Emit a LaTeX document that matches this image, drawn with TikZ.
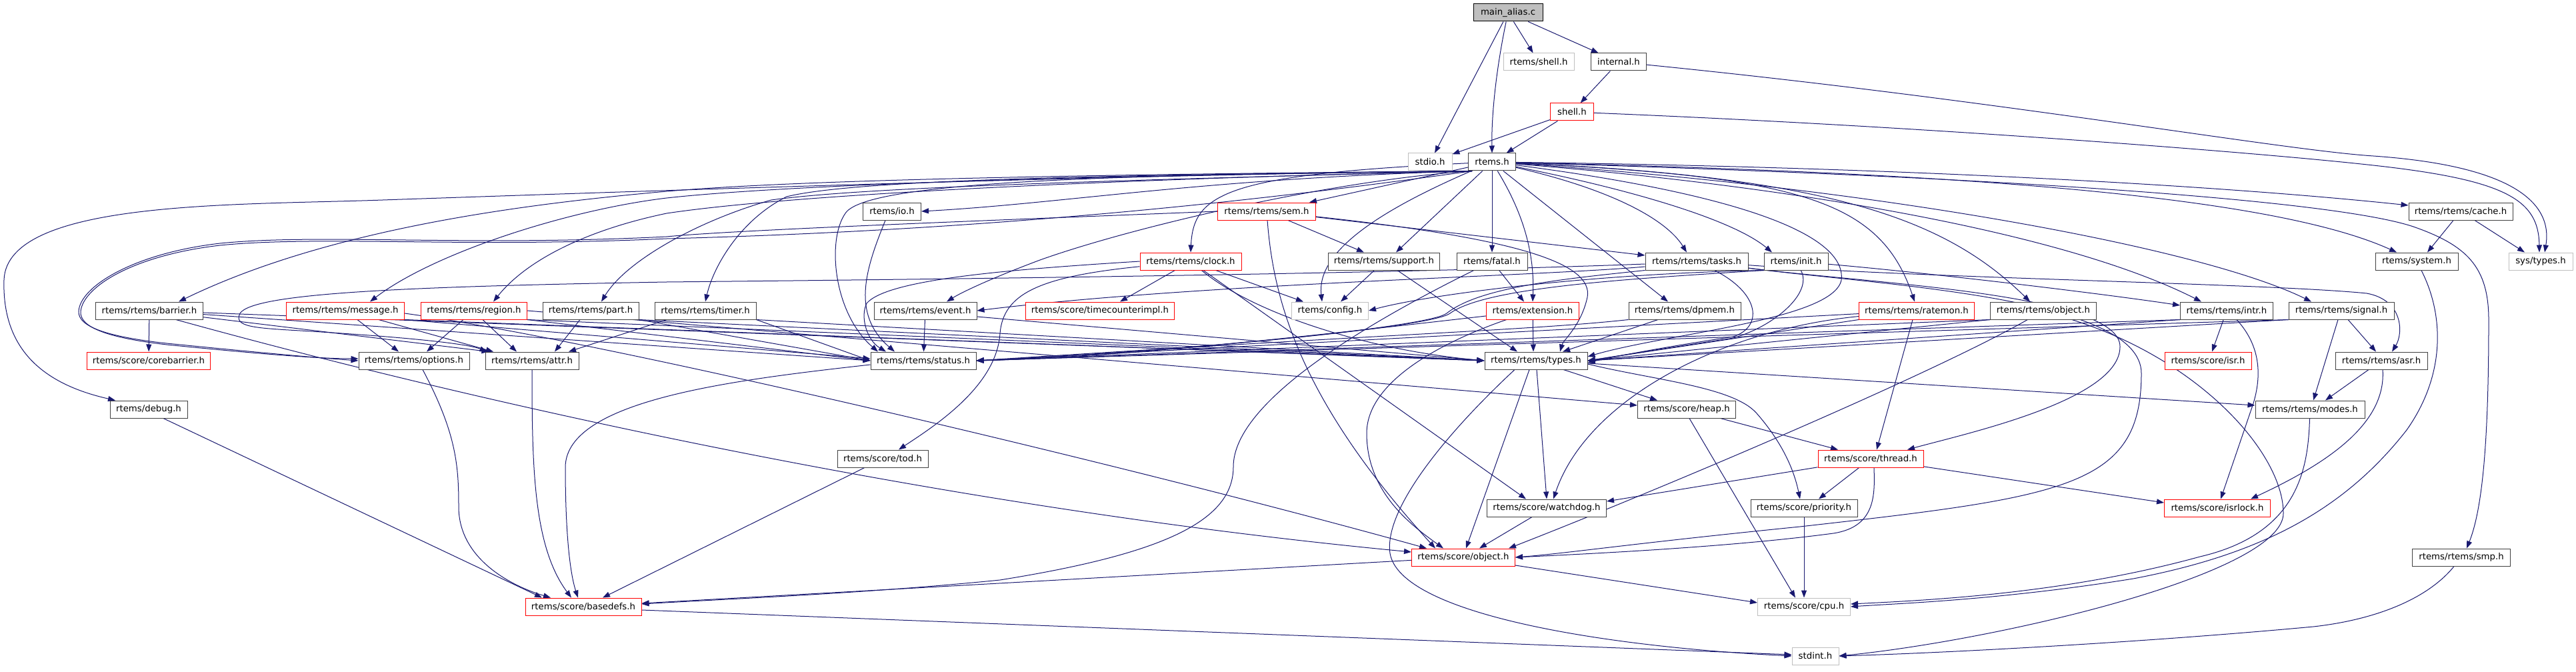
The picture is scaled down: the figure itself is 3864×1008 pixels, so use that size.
\documentclass[tikz,border=0pt]{standalone}
\usepackage{fontspec}
\setmainfont{DejaVu Sans}
\usetikzlibrary{arrows.meta,backgrounds}
\definecolor{edgec}{HTML}{191970}
\definecolor{bord}{HTML}{404040}
\definecolor{gl}{HTML}{BFBFBF}
\tikzset{
 nd/.style={rectangle, draw=bord, fill=white, line width=1pt, minimum height=26pt, inner sep=0pt, font=\fontsize{13.3pt}{15pt}\selectfont},
 ndr/.style={nd, draw=red},
 ndg/.style={nd, draw=gl},
 ndroot/.style={nd, draw=black, fill=gl},
 dep/.style={draw=edgec, line width=1pt, -{Triangle[length=11pt,width=8pt]}},
}
\begin{document}
\begin{tikzpicture}[x=1pt,y=-1pt]
\useasboundingbox (0,0) rectangle (3864,1008);
% nodes
\node[ndroot, minimum width=104pt] (root) at (2262,19) {main\_alias.c};
\node[ndg, minimum width=106pt] (rshell) at (2308,93) {rtems/shell.h};
\node[nd, minimum width=83pt] (internal) at (2428,93) {internal.h};
\node[ndr, minimum width=65pt] (shellh) at (2358,168) {shell.h};
\node[ndg, minimum width=66pt] (stdio) at (2145,243) {stdio.h};
\node[nd, minimum width=71pt] (rtemsh) at (2238,243) {rtems.h};
\node[nd, minimum width=87pt] (io) at (1338,317) {rtems/io.h};
\node[ndr, minimum width=147pt] (sem) at (1900,317) {rtems/rtems/sem.h};
\node[nd, minimum width=156pt] (cache) at (3691,317) {rtems/rtems/cache.h};
\node[ndr, minimum width=152pt] (clock) at (1786,392) {rtems/rtems/clock.h};
\node[nd, minimum width=167pt] (support) at (2076,392) {rtems/rtems/support.h};
\node[nd, minimum width=106pt] (fatal) at (2238,392) {rtems/fatal.h};
\node[nd, minimum width=154pt] (tasks) at (2545,392) {rtems/rtems/tasks.h};
\node[nd, minimum width=96pt] (init) at (2694,392) {rtems/init.h};
\node[nd, minimum width=124pt] (system) at (3625,392) {rtems/system.h};
\node[ndg, minimum width=96pt] (systypes) at (3811,392) {sys/types.h};
\node[nd, minimum width=161pt] (barrier) at (224,466) {rtems/rtems/barrier.h};
\node[ndr, minimum width=177pt] (message) at (518,466) {rtems/rtems/message.h};
\node[ndr, minimum width=159pt] (region) at (711,466) {rtems/rtems/region.h};
\node[nd, minimum width=144pt] (part) at (886,466) {rtems/rtems/part.h};
\node[nd, minimum width=152pt] (timer) at (1058,466) {rtems/rtems/timer.h};
\node[nd, minimum width=154pt] (event) at (1388,466) {rtems/rtems/event.h};
\node[ndr, minimum width=223pt] (timecnt) at (1650,466) {rtems/score/timecounterimpl.h};
\node[ndg, minimum width=115pt] (config) at (1995,466) {rtems/config.h};
\node[ndr, minimum width=139pt] (extension) at (2299,466) {rtems/extension.h};
\node[nd, minimum width=168pt] (dpmem) at (2527,466) {rtems/rtems/dpmem.h};
\node[ndr, minimum width=173pt] (ratemon) at (2875,466) {rtems/rtems/ratemon.h};
\node[nd, minimum width=159pt] (robject) at (3065,466) {rtems/rtems/object.h};
\node[nd, minimum width=139pt] (intr) at (3340,466) {rtems/rtems/intr.h};
\node[nd, minimum width=158pt] (signal) at (3512,466) {rtems/rtems/signal.h};
\node[ndr, minimum width=185pt] (corebarrier) at (223,541) {rtems/score/corebarrier.h};
\node[nd, minimum width=166pt] (options) at (621,541) {rtems/rtems/options.h};
\node[nd, minimum width=140pt] (attr) at (798,541) {rtems/rtems/attr.h};
\node[nd, minimum width=158pt] (status) at (1385,541) {rtems/rtems/status.h};
\node[nd, minimum width=154pt] (types) at (2304,541) {rtems/rtems/types.h};
\node[ndr, minimum width=130pt] (isr) at (3312,541) {rtems/score/isr.h};
\node[nd, minimum width=138pt] (asr) at (3572,541) {rtems/rtems/asr.h};
\node[nd, minimum width=116pt] (debug) at (223,614) {rtems/debug.h};
\node[nd, minimum width=147pt] (heap) at (2530,614) {rtems/score/heap.h};
\node[nd, minimum width=164pt] (modes) at (3465,614) {rtems/rtems/modes.h};
\node[nd, minimum width=136pt] (tod) at (1324,688) {rtems/score/tod.h};
\node[ndr, minimum width=158pt] (thread) at (2806,688) {rtems/score/thread.h};
\node[nd, minimum width=179pt] (watchdog) at (2320,762) {rtems/score/watchdog.h};
\node[nd, minimum width=160pt] (priority) at (2706,762) {rtems/score/priority.h};
\node[ndr, minimum width=159pt] (isrlock) at (3326,762) {rtems/score/isrlock.h};
\node[ndr, minimum width=155pt] (sobject) at (2195,836) {rtems/score/object.h};
\node[nd, minimum width=147pt] (smp) at (3692,836) {rtems/rtems/smp.h};
\node[ndr, minimum width=174pt] (basedefs) at (875,910) {rtems/score/basedefs.h};
\node[ndg, minimum width=139pt] (cpu) at (2706,910) {rtems/score/cpu.h};
\node[ndg, minimum width=70pt] (stdint) at (2723,984) {stdint.h};

\begin{scope}[on background layer]
\fill[white] (0,0) rectangle (3864,1008);
% top
\draw[dep] (root) -- (stdio);
\draw[dep] (root) .. controls (2245,100) and (2237,170) .. (rtemsh.north);
\draw[dep] (root) -- (rshell);
\draw[dep] (root) -- (internal);
\draw[dep] (internal) -- (shellh);
\draw[dep] (internal) .. controls (3000,150) and (3420,225) .. (3560,234) .. controls (3760,248) and (3830,300) .. ([xshift=6pt]systypes.north);
\draw[dep] (shellh) -- (stdio);
\draw[dep] (shellh) -- (rtemsh);
\draw[dep] (shellh) .. controls (2900,190) and (3400,230) .. (3560,248) .. controls (3760,270) and (3808,300) .. ([xshift=-2pt]systypes.north);
% rtems.h left fan
\draw[dep] ([xshift=6pt]rtemsh.south west) .. controls (1800,268) and (1600,305) .. (io.east);
\draw[dep] ([xshift=6pt]rtemsh.south west) .. controls (1600,262) and (1200,270) .. (1000,287) .. controls (800,305) and (500,340) .. ([xshift=44pt]barrier.north);
\draw[dep] ([xshift=6pt]rtemsh.south west) .. controls (1700,262) and (1200,275) .. (1000,297) .. controls (850,315) and (650,380) .. ([xshift=37pt]message.north);
\draw[dep] ([xshift=6pt]rtemsh.south west) .. controls (1700,268) and (1200,290) .. (1000,320) .. controls (880,345) and (790,390) .. ([xshift=29pt]region.north);
\draw[dep] ([xshift=6pt]rtemsh.south west) .. controls (1700,270) and (1300,280) .. (1157,300) .. controls (1050,330) and (940,390) .. ([xshift=16pt]part.north);
\draw[dep] ([xshift=6pt]rtemsh.south west) .. controls (1800,262) and (1300,265) .. (1180,295) .. controls (1110,330) and (1070,400) .. (timer.north);
\draw[dep] ([xshift=6pt]rtemsh.south west) .. controls (2000,270) and (1700,340) .. (1560,390) .. controls (1480,420) and (1440,440) .. ([xshift=32pt]event.north);
\draw[dep] ([xshift=6pt]rtemsh.south west) .. controls (1700,262) and (1300,270) .. (1268,320) .. controls (1240,360) and (1250,470) .. ([xshift=-68pt]status.north);
\draw[dep] ([xshift=6pt]rtemsh.south west) .. controls (1700,262) and (1100,282) .. (574,300) .. controls (350,308) and (10,300) .. (6,420) .. controls (3,520) and (60,575) .. ([xshift=-50pt]debug.north);
\draw[dep] ([xshift=6pt]rtemsh.south west) .. controls (1900,300) and (1500,345) .. (1000,358) .. controls (700,372) and (480,353) .. (330,368) .. controls (200,383) and (125,430) .. (121,467) .. controls (119,492) and (165,507) .. (250,517) .. controls (400,532) and (480,538) .. ([yshift=3pt]options.west);
% rtems.h middle/right fan
\draw[dep] (rtemsh) -- ([xshift=-10pt]sem.north east);
\draw[dep] (rtemsh) .. controls (1840,262) and (1790,290) .. (clock.north);
\draw[dep] (rtemsh) -- ([xshift=18pt]support.north);
\draw[dep] (rtemsh) -- (fatal);
\draw[dep] (rtemsh) .. controls (2060,320) and (1975,380) .. ([xshift=-12pt]config.north);
\draw[dep] (rtemsh) .. controls (2285,320) and (2302,380) .. (extension.north);
\draw[dep] (rtemsh) .. controls (2420,285) and (2500,330) .. ([xshift=-15pt]tasks.north);
\draw[dep] (rtemsh) -- ([xshift=-25pt]dpmem.north);
\draw[dep] (rtemsh) .. controls (2450,285) and (2600,330) .. ([xshift=-36pt]init.north);
\draw[dep] (rtemsh) .. controls (2700,265) and (2820,300) .. ([xshift=-3pt]ratemon.north);
\draw[dep] (rtemsh) .. controls (2750,265) and (2920,330) .. ([xshift=-20pt]robject.north);
\draw[dep] (rtemsh) .. controls (2700,280) and (3100,350) .. ([xshift=-38pt]intr.north);
\draw[dep] (rtemsh) .. controls (2800,280) and (3300,370) .. ([xshift=-45pt]signal.north);
\draw[dep] (rtemsh) .. controls (2800,250) and (3300,275) .. ([yshift=9pt]cache.west);
\draw[dep] (rtemsh) .. controls (2900,258) and (3400,290) .. ([xshift=-30pt]system.north);
\draw[dep] (rtemsh) .. controls (3000,265) and (3500,300) .. (3620,340) .. controls (3700,368) and (3733,400) .. (3733,480) .. controls (3733,650) and (3725,760) .. ([xshift=8pt]smp.north);
\draw[dep] (rtemsh) .. controls (2600,290) and (2770,350) .. (2762,420) .. controls (2750,480) and (2500,500) .. ([yshift=6pt]types.east);
% sem.h
\draw[dep] (sem) -- ([xshift=-30pt]support.north);
\draw[dep] (sem) -- ([yshift=9pt]tasks.west);
\draw[dep] (sem) .. controls (2300,360) and (2395,400) .. (2380,450) .. controls (2370,490) and (2345,510) .. ([xshift=36pt]types.north);
\draw[dep] (sem) .. controls (1910,450) and (1950,600) .. ([xshift=-42pt]sobject.north);
\draw[dep] (sem.west) .. controls (1500,330) and (1100,345) .. (1000,355) .. controls (700,370) and (480,350) .. (330,365) .. controls (200,380) and (120,430) .. (118,467) .. controls (117,490) and (160,505) .. (250,515) .. controls (400,530) and (480,537) .. (options.west);
% clock.h
\draw[dep] (clock) -- ([xshift=30pt]timecnt.north);
\draw[dep] (clock) -- ([xshift=-40pt]config.north);
\draw[dep] (clock.west) .. controls (1500,405) and (1330,420) .. (1300,455) .. controls (1290,475) and (1300,510) .. ([xshift=-56pt]status.north);
\draw[dep] (clock) .. controls (1560,415) and (1505,440) .. (1500,500) .. controls (1495,580) and (1400,640) .. ([xshift=24pt]tod.north);
\draw[dep] (clock) -- ([xshift=-31pt]watchdog.north);
\draw[dep] (clock) .. controls (1880,470) and (2050,525) .. (types.west);
% io, support, fatal
\draw[dep] ([xshift=-10pt]io.south) .. controls (1300,400) and (1275,470) .. ([xshift=-43pt]status.north);
\draw[dep] (support) -- ([xshift=16pt]config.north);
\draw[dep] (support) -- ([xshift=-28pt]types.north);
\draw[dep] (fatal) -- ([xshift=-13pt]extension.north);
\draw[dep] (fatal) .. controls (2060,480) and (1850,600) .. (1850,700) .. controls (1850,780) and (1750,830) .. (1500,870) .. controls (1300,890) and (1100,898) .. ([yshift=4pt]basedefs.east);
% tasks.h
\draw[dep] (tasks.south west) .. controls (2350,418) and (2220,430) .. (2170,470) .. controls (2145,490) and (1800,525) .. (status.east);
\draw[dep] (tasks) .. controls (2640,440) and (2645,490) .. (2600,505) .. controls (2500,520) and (2420,535) .. ([yshift=-3pt]types.east);
\draw[dep] (tasks) .. controls (2800,425) and (3180,440) .. (3180,520) .. controls (3180,600) and (2950,650) .. ([xshift=55pt]thread.north);
\draw[dep] (tasks) .. controls (2820,428) and (3212,445) .. (3212,560) .. controls (3212,730) and (3100,745) .. (2700,790) .. controls (2450,815) and (2350,830) .. (sobject.east);
\draw[dep] (tasks) .. controls (2900,418) and (3400,425) .. (3550,440) .. controls (3605,450) and (3605,500) .. ([xshift=16pt]asr.north);
\draw[dep] ([yshift=-8pt]tasks.west) .. controls (2300,415) and (1800,425) .. (event.east);
\draw[dep] ([yshift=-4pt]tasks.west) .. controls (2100,410) and (1500,418) .. (1000,423) .. controls (600,430) and (380,440) .. (360,470) .. controls (350,490) and (380,492) .. (450,496) .. controls (600,505) and (700,515) .. ([xshift=3pt]attr.north west);
% init.h
\draw[dep] (init.south west) .. controls (2400,410) and (2150,440) .. (config.east);
\draw[dep] (init.south west) .. controls (2450,418) and (2230,430) .. (2175,470) .. controls (2150,490) and (1800,525) .. (status.east);
\draw[dep] (init) .. controls (2720,440) and (2660,490) .. (2600,507) .. controls (2500,522) and (2420,535) .. (types.east);
\draw[dep] (init) .. controls (2900,410) and (3150,440) .. ([yshift=8pt]intr.west);
% extension, dpmem, ratemon, object, intr, signal
\draw[dep] (extension) .. controls (2000,500) and (1700,535) .. (status.east);
\draw[dep] (extension) -- ([xshift=-4pt]types.north);
\draw[dep] (extension) .. controls (2200,500) and (2050,560) .. (2050,650) .. controls (2050,740) and (2120,790) .. ([xshift=-30pt]sobject.north);
\draw[dep] (dpmem.south west) .. controls (2300,495) and (2100,500) .. (status.east);
\draw[dep] (dpmem) -- (types);
\draw[dep] (ratemon) -- (status.east);
\draw[dep] (ratemon.south west) -- (types.east);
\draw[dep] ([xshift=-6pt]ratemon.south) -- ([xshift=9pt]thread.north);
\draw[dep] (ratemon) .. controls (2580,495) and (2380,600) .. ([xshift=10pt]watchdog.north);
\draw[dep] (robject.south west) -- (status.east);
\draw[dep] (robject.south west) -- (types.east);
\draw[dep] (robject) .. controls (2900,560) and (2500,730) .. ([xshift=-10pt]sobject.north east);
\draw[dep] (robject) .. controls (3300,540) and (3425,680) .. (3425,770) .. controls (3425,860) and (3000,960) .. (stdint.east);
\draw[dep] (intr.south west) -- (status.east);
\draw[dep] (intr.south west) -- (types.east);
\draw[dep] (intr) -- ([xshift=6pt]isr.north);
\draw[dep] ([xshift=15pt]intr.south) .. controls (3392,520) and (3392,565) .. (3380,605) -- ([xshift=5pt]isrlock.north);
\draw[dep] (signal.south west) -- (status.east);
\draw[dep] (signal.south west) -- (types.east);
\draw[dep] ([xshift=10pt]signal.south) -- ([xshift=-8pt]asr.north);
\draw[dep] ([xshift=-5pt]signal.south) -- ([xshift=5pt]modes.north);
\draw[dep] (asr) -- ([xshift=23pt]modes.north);
\draw[dep] ([xshift=2pt]asr.south) .. controls (3580,640) and (3480,700) .. ([xshift=50pt]isrlock.north);
\draw[dep] (modes) .. controls (3462,700) and (3450,800) .. (3300,835) .. controls (3100,890) and (2900,900) .. ([yshift=4pt]cpu.east);
\draw[dep] (system) .. controls (3665,470) and (3670,560) .. (3610,645) .. controls (3520,760) and (3400,830) .. (3200,868) .. controls (3000,900) and (2850,905) .. (cpu.east);
\draw[dep] (smp) .. controls (3640,900) and (3560,930) .. (3470,940) .. controls (3200,965) and (2900,980) .. (stdint.east);
\draw[dep] (cache) -- ([xshift=16pt]system.north);
\draw[dep] (cache) -- ([xshift=-24pt]systypes.north);
% row 6 left group
\draw[dep] (barrier) -- (corebarrier);
\draw[dep] (barrier) -- ([xshift=6pt]attr.north west);
\draw[dep] (barrier) -- (status.west);
\draw[dep] (barrier) -- (types.west);
\draw[dep] ([xshift=40pt]barrier.south) .. controls (700,600) and (1400,760) .. ([yshift=8pt]sobject.west);
\draw[dep] ([xshift=18pt]message.south) -- ([xshift=-23pt]options.north);
\draw[dep] ([xshift=50pt]message.south) -- ([xshift=-58pt]attr.north);
\draw[dep] (message.south east) -- ([yshift=3pt]status.west);
\draw[dep] (message.south east) -- (types.west);
\draw[dep] ([yshift=-4pt]message.east) .. controls (900,510) and (1700,700) .. ([xshift=-55pt]sobject.north);
\draw[dep] ([xshift=-16pt]region.south) -- ([xshift=19pt]options.north);
\draw[dep] ([xshift=13pt]region.south) -- ([xshift=-23pt]attr.north);
\draw[dep] (region.south east) -- (status.west);
\draw[dep] (region.south east) -- (types.west);
\draw[dep] (region.east) -- ([yshift=6pt]heap.west);
\draw[dep] ([xshift=-16pt]part.south) -- ([xshift=34pt]attr.north);
\draw[dep] (part.south east) -- (status.west);
\draw[dep] (part.south east) -- (types.west);
\draw[dep] ([xshift=-58pt]timer.south) -- ([xshift=55pt]attr.north);
\draw[dep] (timer.south east) -- (status.west);
\draw[dep] (timer.south east) -- (types.west);
\draw[dep] (event) -- (status);
\draw[dep] ([yshift=-9pt]event.east) -- (types.west);
% types.h
\draw[dep] (types) -- ([xshift=-44pt]heap.north);
\draw[dep] ([xshift=1pt]types.south) -- (watchdog.north);
\draw[dep] ([xshift=-10pt]types.south) -- ([xshift=4pt]sobject.north);
\draw[dep] ([xshift=-32pt]types.south) .. controls (2180,640) and (2075,760) .. (2085,830) .. controls (2100,920) and (2400,970) .. (stdint.west);
\draw[dep] ([yshift=-5pt]types.east) .. controls (2480,570) and (2600,580) .. (2635,620) .. controls (2670,660) and (2690,700) .. ([xshift=-6pt]priority.north);
\draw[dep] ([yshift=-4pt]types.east) -- ([yshift=6pt]modes.west);
% score
\draw[dep] (heap) -- ([xshift=-49pt]thread.north);
\draw[dep] ([xshift=4pt]heap.south) -- ([xshift=-13pt]cpu.north);
\draw[dep] (thread) -- ([yshift=10pt]watchdog.east);
\draw[dep] (thread) -- ([xshift=22pt]priority.north);
\draw[dep] (thread) -- ([yshift=8pt]isrlock.west);
\draw[dep] ([xshift=5pt]thread.south) .. controls (2812,740) and (2815,790) .. (2750,800) .. controls (2600,820) and (2400,830) .. (sobject.east);
\draw[dep] (priority) -- (cpu);
\draw[dep] ([xshift=-22pt]watchdog.south) -- ([xshift=24pt]sobject.north);
\draw[dep] (sobject) -- ([yshift=5pt]basedefs.east);
\draw[dep] (sobject) -- ([yshift=6pt]cpu.west);
\draw[dep] ([yshift=-5pt]basedefs.east) -- ([yshift=2pt]stdint.west);
% into basedefs
\draw[dep] ([yshift=-6pt]status.west) .. controls (1100,570) and (850,600) .. (848,700) .. controls (848,800) and (855,860) .. ([xshift=-8pt]basedefs.north);
\draw[dep] (attr.south) .. controls (798,700) and (800,820) .. ([xshift=-18pt]basedefs.north);
\draw[dep] ([xshift=13pt]options.south) .. controls (685,650) and (688,700) .. (688,760) .. controls (688,840) and (770,880) .. ([xshift=-49pt]basedefs.north);
\draw[dep] ([xshift=22pt]debug.south) -- ([xshift=-62pt]basedefs.north);
\draw[dep] (tod) -- ([xshift=29pt]basedefs.north);
\end{scope}
\end{tikzpicture}
\end{document}
